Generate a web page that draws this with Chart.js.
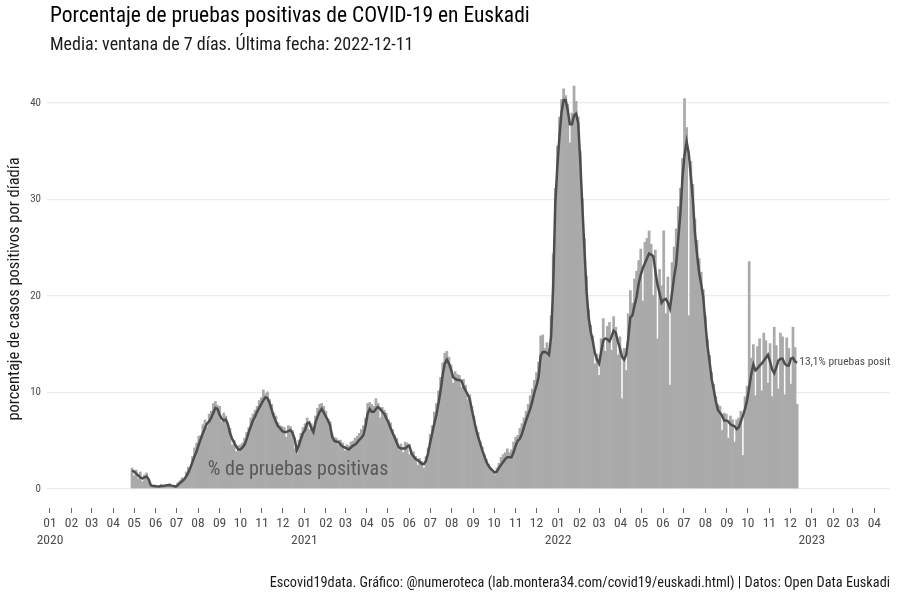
<!DOCTYPE html>
<html>
<head>
<meta charset="utf-8">
<script src="https://cdn.jsdelivr.net/npm/chart.js@4.4.1/dist/chart.umd.min.js"></script>
<style>
  html, body { margin: 0; background: #fff; }
</style>
</head>
<body>
<canvas id="chart" width="900" height="600"></canvas>
<script>
// Porcentaje de pruebas positivas - Euskadi
// values read every 3 days, first sample 2020-04-28, last 2022-12-11

const FIRST_DATE = "2020-04-28";
const STEP_DAYS = 3;
const ORIGIN = "2020-01-01";

// daily % positive (bars), one value every 3 days
const dailyPct = [
  2.2,1.4,2.0,1.1,1.8,0.8,1.5,1.7,0.7,0.5,
  0.2,0.4,0.1,0.3,0.5,0.2,0.5,0.3,0.6,0.2,
  0.4,0.3,0.7,0.9,1.2,1.1,1.8,2.3,2.0,3.4,
  4.3,4.8,5.5,5.6,6.7,7.2,6.4,7.8,8.1,8.9,
  9.1,8.7,8.6,7.0,7.9,7.6,6.4,6.3,4.6,5.1,
  3.9,4.5,4.6,4.8,5.3,5.9,6.4,7.4,7.8,8.2,
  8.6,9.2,9.5,10.3,9.9,10.1,9.3,8.8,7.9,7.6,
  6.9,6.6,6.5,6.4,5.4,6.6,6.5,6.1,4.2,3.6,
  5.1,5.8,6.4,6.8,7.4,6.2,6.8,6.5,7.6,8.4,
  8.8,8.9,8.6,8.1,7.3,7.0,5.8,5.4,5.3,4.6,
  5.1,4.8,4.0,4.6,4.5,4.9,5.0,5.3,5.5,5.8,
  6.2,6.6,7.4,8.9,9.0,8.8,8.6,9.4,8.9,7.4,
  8.5,8.2,7.9,7.2,6.9,6.2,5.6,5.3,4.1,4.7,
  3.8,4.9,4.8,3.6,4.0,3.9,3.4,2.5,3.2,2.9,
  2.2,3.4,4.3,5.7,6.6,8.0,8.9,10.2,11.6,13.1,
  14.1,14.3,13.7,12.9,11.0,12.2,11.9,11.8,10.6,11.4,
  10.8,9.3,9.8,8.6,7.6,6.5,5.9,5.0,4.4,3.6,
  3.1,2.6,2.2,1.8,1.5,2.2,2.7,3.3,3.6,3.8,
  4.2,3.8,4.1,4.9,5.4,5.6,6.3,6.8,7.4,8.1,
  8.8,9.7,10.4,11.3,12.1,13.2,15.9,16.0,14.6,15.2,
  14.5,18.0,24.4,31.2,35.6,38.6,40.4,41.5,40.8,39.9,
  35.9,39.0,41.8,40.2,38.6,35.0,30.1,26.0,22.1,18.6,
  17.0,15.9,13.0,14.0,11.8,15.6,17.7,14.3,16.9,17.3,
  14.4,17.9,16.8,13.9,15.8,9.4,14.6,12.3,18.2,20.6,
  19.3,21.8,22.6,23.7,24.9,19.5,25.6,26.0,26.8,25.4,
  20.1,24.8,15.6,22.8,21.1,26.8,18.2,22.0,10.8,23.5,
  25.1,27.0,29.3,31.2,34.3,40.5,37.5,18.0,34.0,31.6,
  28.0,25.8,23.9,22.5,20.7,18.0,15.5,13.9,12.1,10.9,
  9.6,8.8,8.6,6.1,7.9,7.8,5.3,7.6,7.2,4.9,
  7.2,7.4,8.1,3.5,9.6,10.7,23.6,13.6,15.0,9.7,
  14.8,15.6,10.2,16.2,15.4,11.0,15.1,9.6,16.8,14.9,
  10.4,16.2,15.8,9.8,15.7,14.6,10.9,16.8,14.7,8.8
];

// 7-day mean (line), same dates
const mean7 = [
  1.9,1.8,1.6,1.4,1.2,1.1,1.2,1.3,1.0,0.4,
  0.3,0.3,0.25,0.25,0.3,0.3,0.35,0.4,0.4,0.35,
  0.3,0.25,0.4,0.6,0.8,1.0,1.3,1.7,2.2,2.8,
  3.4,3.9,4.6,5.2,5.8,6.3,6.8,7.0,7.4,7.9,
  8.4,8.3,7.7,7.3,7.1,7.2,6.7,5.8,5.2,4.8,
  4.4,4.1,4.1,4.3,4.6,5.2,5.9,6.5,7.1,7.5,
  8.0,8.4,8.8,9.2,9.5,9.4,8.9,8.2,7.5,7.0,
  6.5,6.3,6.0,5.9,5.9,6.0,6.1,5.8,5.2,4.0,
  4.5,5.2,5.8,6.1,6.8,6.9,6.3,5.9,6.9,7.5,
  8.0,8.3,7.9,7.5,7.1,6.6,5.4,5.0,4.9,4.9,
  4.6,4.4,4.3,4.2,4.1,4.3,4.5,4.6,4.8,5.1,
  5.3,5.6,6.5,7.8,8.3,8.0,8.0,8.3,8.5,8.3,
  8.0,7.8,7.3,6.9,6.3,5.8,5.3,4.8,4.3,4.2,
  4.2,4.2,4.4,4.5,3.7,3.4,3.1,3.0,2.8,2.6,
  2.6,2.9,3.7,4.8,5.8,6.8,7.7,8.9,10.2,11.8,
  13.0,13.4,13.0,12.4,11.6,11.4,11.3,11.3,11.2,10.6,
  10.2,9.8,9.3,8.2,7.2,6.2,5.4,4.7,4.0,3.4,
  2.8,2.4,2.1,1.9,1.7,1.8,2.2,2.5,2.8,3.1,
  3.3,3.3,3.3,3.8,4.5,5.0,5.2,5.7,6.4,7.1,
  7.7,8.3,9.1,10.0,10.7,11.6,13.8,14.2,14.2,14.1,
  13.9,15.8,21.0,29.5,33.5,36.5,39.0,40.3,40.3,39.2,
  37.8,37.8,38.7,38.9,37.9,33.9,29.2,24.8,20.5,17.8,
  16.3,15.3,14.1,13.4,13.0,14.2,15.4,15.6,15.5,15.3,
  15.8,16.4,16.2,15.3,14.6,13.7,13.4,13.9,15.6,17.8,
  18.0,19.0,19.9,21.3,22.2,22.9,23.4,23.9,24.4,24.3,
  24.1,22.6,21.2,20.3,19.3,19.6,19.7,19.3,18.7,20.3,
  22.0,23.3,26.0,28.5,32.3,34.6,36.0,34.8,32.5,30.0,
  26.5,24.3,22.4,21.2,19.8,17.2,14.8,13.2,11.4,10.3,
  9.1,8.2,7.9,7.6,7.1,7.1,7.0,6.7,6.6,6.5,
  6.2,6.4,7.0,7.6,8.3,9.2,10.5,11.9,12.9,12.3,
  12.5,12.8,13.0,13.3,13.6,13.9,13.2,12.4,12.0,12.6,
  13.3,13.5,13.5,13.0,12.8,12.8,13.5,13.6,13.2,13.1
];

// axis ticks
const tickYears = [2020, 2021, 2022, 2023];
const tickMonths = ["01","02","03","04","05","06","07","08","09","10","11","12"];
const lastTickMonth = "2023-04";
const yTicks = [0, 10, 20, 30, 40];

const TITLE = "Porcentaje de pruebas positivas de COVID-19 en Euskadi";
const SUBTITLE = "Media: ventana de 7 días. Última fecha: 2022-12-11";
const CAPTION = "Escovid19data. Gráfico: @numeroteca (lab.montera34.com/covid19/euskadi.html) | Datos: Open Data Euskadi";
const Y_TITLE = "porcentaje de casos positivos por díadía";
const SERIES_LABEL = "% de pruebas positivas";
const END_LABEL = "13,1% pruebas positivas";

const FONT = "'Roboto Condensed', Roboto, sans-serif";

// helpers
function dayOf(dateStr){
  return Math.round((Date.parse(dateStr) - Date.parse(ORIGIN)) / 86400000);
}
const firstDay = dayOf(FIRST_DATE);
const days = dailyPct.map((_, i) => firstDay + i * STEP_DAYS);

const barData = dailyPct.map((v, i) => ({ x: days[i], y: v }));
const lineData = mean7.map((v, i) => ({ x: days[i], y: v }));

// month ticks from 2020-01 to 2023-04
const monthTicks = [];
tickYears.forEach(y => {
  tickMonths.forEach(m => {
    const key = y + "-" + m;
    if (key > lastTickMonth) return;
    monthTicks.push({ day: dayOf(key + "-01"), label: m === "01" ? [m, String(y)] : m });
  });
});
const tickLabelByDay = {};
monthTicks.forEach(t => { tickLabelByDay[t.day] = t.label; });

// texts drawn around the panel
const textPlugin = {
  id: "texts",
  afterDatasetsDraw(chart){
    const { ctx, chartArea, scales } = chart;
    ctx.save();
    ctx.textBaseline = "middle";
    // series label inside the panel
    ctx.fillStyle = "#595959";
    ctx.font = "20px " + FONT;
    ctx.textAlign = "left";
    ctx.fillText(SERIES_LABEL, scales.x.getPixelForValue(dayOf("2020-08-15")), scales.y.getPixelForValue(2.0));
    // end label, clipped by the panel
    ctx.beginPath();
    ctx.rect(chartArea.left, chartArea.top, chartArea.right - chartArea.left, chartArea.bottom - chartArea.top);
    ctx.clip();
    ctx.fillStyle = "#4d4d4d";
    ctx.font = "11.5px " + FONT;
    const lastDay = days[days.length - 1];
    ctx.fillText(END_LABEL, scales.x.getPixelForValue(lastDay + 3), scales.y.getPixelForValue(mean7[mean7.length - 1]));
    ctx.restore();
  },
  afterDraw(chart){
    const { ctx } = chart;
    ctx.save();
    ctx.textBaseline = "middle";
    ctx.textAlign = "left";
    ctx.fillStyle = "#000";
    ctx.font = "21.5px " + FONT;
    ctx.fillText(TITLE, 50, 17);
    ctx.fillStyle = "#1a1a1a";
    ctx.font = "18px " + FONT;
    ctx.fillText(SUBTITLE, 50, 45);
    ctx.textAlign = "right";
    ctx.font = "14.3px " + FONT;
    ctx.fillText(CAPTION, 890, 583);
    ctx.restore();
  }
};

const ctx = document.getElementById("chart").getContext("2d");
new Chart(ctx, {
  type: "bar",
  data: {
    datasets: [
      {
        type: "line",
        data: lineData,
        borderColor: "#4d4d4d",
        borderWidth: 2.5,
        pointRadius: 0,
        tension: 0,
        order: 0
      },
      {
        type: "bar",
        data: barData,
        backgroundColor: "#aaaaaa",
        borderWidth: 0,
        barPercentage: 1.3,
        categoryPercentage: 1,
        order: 1
      }
    ]
  },
  options: {
    responsive: false,
    animation: false,
    devicePixelRatio: 1,
    layout: { padding: { top: 70, right: 10, bottom: 47, left: 0 } },
    plugins: {
      legend: { display: false },
      tooltip: { enabled: false }
    },
    scales: {
      x: {
        type: "linear",
        min: -4.3,
        max: 1208.6,
        offset: false,
        afterBuildTicks: s => { s.ticks = monthTicks.map(t => ({ value: t.day })); },
        afterFit: s => { s.height = 45; },
        border: { display: false },
        grid: { offset: false, drawOnChartArea: false, drawTicks: true, tickLength: 5, tickColor: "#666", tickWidth: 1 },
        ticks: {
          autoSkip: false,
          maxRotation: 0,
          padding: 3,
          color: "#4d4d4d",
          font: { family: FONT, size: 13.5, lineHeight: 1.2 },
          callback: v => tickLabelByDay[v] || ""
        }
      },
      y: {
        min: -1.97,
        max: 43.42,
        afterBuildTicks: s => { s.ticks = yTicks.map(v => ({ value: v })); },
        afterFit: s => { s.width = 47; },
        border: { display: false },
        grid: { color: "#ebebeb", lineWidth: 1.3, drawTicks: false },
        ticks: { padding: 6, color: "#4d4d4d", font: { family: FONT, size: 11 } },
        title: {
          display: true,
          text: Y_TITLE,
          color: "#1a1a1a",
          font: { family: FONT, size: 16.5 },
          padding: { top: 5, bottom: 0 }
        }
      }
    }
  },
  plugins: [textPlugin]
});
</script>
</body>
</html>
